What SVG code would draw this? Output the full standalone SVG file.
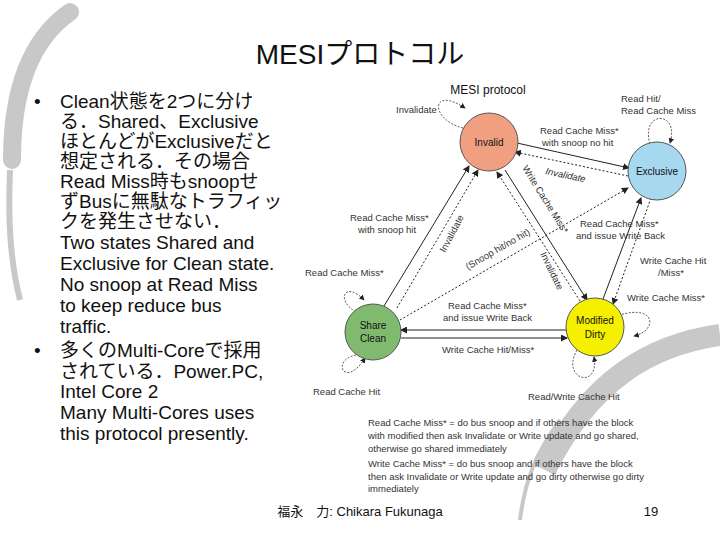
<svg xmlns="http://www.w3.org/2000/svg" width="720" height="540" viewBox="0 0 720 540">
<style>
.t{font-family:"Liberation Sans","Noto Sans CJK JP",sans-serif;fill:#111}
.b{font-size:19px}
.s{font-size:9.5px;fill:#333}
.n{font-size:10px;text-anchor:middle}
.solid{stroke:#222;stroke-width:1;fill:none}
.dash{stroke:#222;stroke-width:1;fill:none;stroke-dasharray:2,2}
.loop{stroke:#333;stroke-width:0.8;fill:none;stroke-dasharray:2,1.5}
</style>
<defs>
<marker id="a" markerWidth="7" markerHeight="7" refX="6" refY="3.5" orient="auto"><path d="M0,0L7,3.5L0,7z" fill="#222"/></marker>
</defs>
<rect width="720" height="540" fill="#fff"/>
<g id="swirl" fill="none" stroke="#c8c8c8">
<path d="M70,12 C30,40 12,90 12,160" stroke-width="18" stroke-linecap="round"/>
<path d="M10,170 C8,220 10,260 20,300" stroke-width="6"/>
<path d="M545,470 C590,380 650,345 720,335" stroke-width="22"/>
<path d="M520,520 C525,480 535,455 560,420" stroke-width="4"/>
</g>
<text class="t" x="360" y="64" font-size="28" text-anchor="middle">MESIプロトコル</text>
<g id="bullets" class="t b">
<text x="34" y="108">•</text>
<text x="60" y="108">Clean状態を2つに分け</text>
<text x="60" y="128">る．Shared、Exclusive</text>
<text x="60" y="148">ほとんどがExclusiveだと</text>
<text x="60" y="168">想定される．その場合</text>
<text x="60" y="188">Read Miss時もsnoopせ</text>
<text x="60" y="208">ずBusに無駄なトラフィッ</text>
<text x="60" y="228">クを発生させない．</text>
<text x="60" y="249">Two states Shared and</text>
<text x="60" y="270">Exclusive for Clean state.</text>
<text x="60" y="291">No snoop at Read Miss</text>
<text x="60" y="312">to keep reduce bus</text>
<text x="60" y="333">traffic.</text>
<text x="34" y="357">•</text>
<text x="60" y="357">多くのMulti-Coreで採用</text>
<text x="60" y="378">されている．Power.PC,</text>
<text x="60" y="398">Intel Core 2</text>
<text x="60" y="419">Many Multi-Cores uses</text>
<text x="60" y="440">this protocol presently.</text>
</g>
<text class="t" x="488" y="94" font-size="12" text-anchor="middle">MESI protocol</text>
<g id="connectors">
<path class="solid" d="M517,143 L629,168" marker-end="url(#a)"/>
<path class="dash" d="M628,176 L515,152" marker-end="url(#a)"/>
<path class="solid" d="M384,306 L469,166" marker-end="url(#a)"/>
<path class="dash" d="M397,308 L478,170" marker-end="url(#a)"/>
<path class="dash" d="M580,301 L497,172" marker-end="url(#a)"/>
<path class="solid" d="M505,170 L587,300" marker-end="url(#a)"/>
<path class="dash" d="M400,320 L628,188" marker-end="url(#a)"/>
<path class="solid" d="M603,299 L641,198" marker-end="url(#a)"/>
<path class="dash" d="M651,198 L613,304" marker-end="url(#a)"/>
<path class="solid" d="M567,330 L401,330" marker-end="url(#a)"/>
<path class="solid" d="M401,338 L567,338" marker-end="url(#a)"/>
<path class="loop" d="M463,128 C430,120 430,85 465,108" marker-end="url(#a)"/>
<path class="loop" d="M650,144 C640,110 680,110 670,143" marker-end="url(#a)"/>
<path class="loop" d="M356,312 C335,300 345,280 364,300" marker-end="url(#a)"/>
<path class="loop" d="M356,355 C330,360 345,390 365,358" marker-end="url(#a)"/>
<path class="loop" d="M612,318 C655,300 660,330 634,336" marker-end="url(#a)"/>
<path class="loop" d="M577,350 C560,380 600,390 594,357" marker-end="url(#a)"/>
</g>
<g id="invalid"><circle cx="489" cy="142" r="29" fill="#f0a080" stroke="#555"/><text class="t n" x="489" y="146">Invalid</text></g>
<g id="exclusive"><circle cx="657" cy="171" r="29" fill="#a6d8f0" stroke="#555"/><text class="t n" x="657" y="175">Exclusive</text></g>
<g id="share"><circle cx="373" cy="332" r="28" fill="#7fba6f" stroke="#555"/><text class="t n" x="373" y="329">Share</text><text class="t n" x="373" y="342">Clean</text></g>
<g id="modified"><circle cx="595" cy="327" r="29" fill="#f5f000" stroke="#555"/><text class="t n" x="595" y="324">Modified</text><text class="t n" x="595" y="338">Dirty</text></g>
<g id="labels" class="t s">
<text x="396" y="113">Invalidate</text>
<text x="621" y="102">Read Hit/</text>
<text x="621" y="114">Read Cache Miss</text>
<text x="540" y="134">Read Cache Miss*</text>
<text x="542" y="146">with snoop no hit</text>
<text x="545" y="174" transform="rotate(12 545 174)" font-style="italic">Invalidate</text>
<text x="350" y="221">Read Cache Miss*</text>
<text x="358" y="233">with snoop hit</text>
<text x="580" y="227">Read Cache Miss*</text>
<text x="576" y="239">and issue Write Back</text>
<text x="445" y="253" transform="rotate(-62 445 253)">Invalidate</text>
<text x="522" y="168" transform="rotate(58 522 168)">Write Cache Miss*</text>
<text x="468" y="270" transform="rotate(-30 468 270)">(Snoop hit/no hit)</text>
<text x="540" y="254" transform="rotate(64 540 254)">Invalidate</text>
<text x="640" y="264">Write Cache Hit</text>
<text x="658" y="276">/Miss*</text>
<text x="305" y="276">Read Cache Miss*</text>
<text x="627" y="301">Write Cache Miss*</text>
<text x="448" y="309">Read Cache Miss*</text>
<text x="443" y="321">and issue Write Back</text>
<text x="442" y="353">Write Cache Hit/Miss*</text>
<text x="313" y="395">Read Cache Hit</text>
<text x="528" y="400">Read/Write Cache Hit</text>
<text x="368" y="426">Read Cache Miss* = do bus snoop and if others have the block</text>
<text x="368" y="439">with modified then ask Invalidate or Write update and go shared,</text>
<text x="368" y="452">otherwise go shared immediately</text>
<text x="368" y="467">Write Cache Miss* = do bus snoop and if others have the block</text>
<text x="368" y="480">then ask Invalidate or Write update and go dirty otherwise go dirty</text>
<text x="368" y="492">immediately</text>
</g>
<text class="t" x="360" y="516" font-size="13" text-anchor="middle">福永　力: Chikara Fukunaga</text>
<text class="t" x="651" y="516" font-size="13" text-anchor="middle">19</text>
</svg>
